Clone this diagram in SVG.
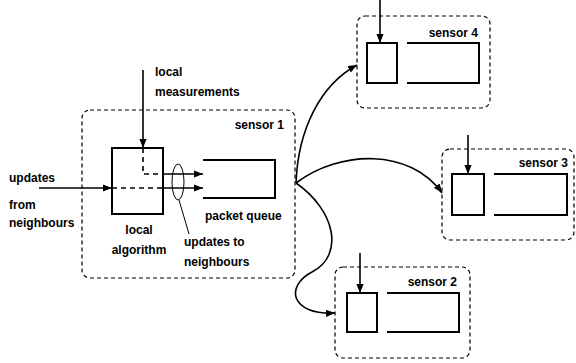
<svg xmlns="http://www.w3.org/2000/svg" width="576" height="363" viewBox="0 0 576 363">
<style>
text{font-family:"Liberation Sans",Arial,sans-serif;font-size:12px;font-weight:bold;fill:#000}
.grp{fill:none;stroke:#000;stroke-width:1.2;stroke-dasharray:4 3}
.box{fill:none;stroke:#000;stroke-width:2}
.q{fill:none;stroke:#000;stroke-width:2}
.ln{fill:none;stroke:#000;stroke-width:1.6}
.dl{fill:none;stroke:#000;stroke-width:1.6;stroke-dasharray:5 4}
.thin{fill:none;stroke:#000;stroke-width:1}
.end{text-anchor:end}
</style>
<defs>
<marker id="ah" viewBox="0 0 10 10" refX="10" refY="5" markerWidth="9" markerHeight="9" markerUnits="userSpaceOnUse" orient="auto"><path d="M0,1 L10,5 L0,9 Z" fill="#000"/></marker>
</defs>
<g id="sensor1">
<rect class="grp" x="82" y="110" width="213" height="168" rx="8"/>
<text class="end" x="284" y="129">sensor 1</text>
<g id="local-algorithm">
<rect class="box" x="112" y="148" width="51" height="66"/>
<text x="139" y="234" text-anchor="middle">local</text>
<text x="139" y="254" text-anchor="middle">algorithm</text>
</g>
<g id="packet-queue">
<path class="q" d="M203,160 H275 V198 H203"/>
<text x="205" y="220">packet queue</text>
</g>
<path class="dl" d="M143,148 V174 H163 M112,188 H163"/>
<ellipse class="thin" cx="178" cy="182" rx="6" ry="18"/>
<path class="thin" d="M179,200 L189,234"/>
<text x="184" y="246">updates to</text>
<text x="184" y="266">neighbours</text>
</g>
<g id="sensor4">
<rect class="grp" x="357" y="16" width="133" height="92" rx="8"/>
<text class="end" x="478" y="37">sensor 4</text>
<rect class="box" x="367" y="43" width="30" height="40"/>
<path class="q" d="M407,43 H479 V83 H407"/>
</g>
<g id="sensor3">
<rect class="grp" x="442" y="149" width="132" height="91" rx="8"/>
<text class="end" x="568" y="167">sensor 3</text>
<rect class="box" x="452" y="174" width="32" height="41"/>
<path class="q" d="M494,174 H567 V215 H494"/>
</g>
<g id="sensor2">
<rect class="grp" x="335" y="267" width="135" height="91" rx="8"/>
<text class="end" x="457" y="286">sensor 2</text>
<rect class="box" x="347" y="293" width="30" height="39"/>
<path class="q" d="M387,293 H459 V332 H387"/>
</g>
<g id="labels">
<text x="155" y="76">local</text>
<text x="155" y="96">measurements</text>
<text x="9" y="182">updates</text>
<text x="9" y="209">from</text>
<text x="9" y="227">neighbours</text>
</g>
<g id="connectors">
<path class="ln" d="M143,70 V148" marker-end="url(#ah)"/>
<path class="ln" d="M39,188 H112" marker-end="url(#ah)"/>
<path class="ln" d="M163,174 H203" marker-end="url(#ah)"/>
<path class="ln" d="M163,188 H203" marker-end="url(#ah)"/>
<path class="ln" d="M380,0 V43" marker-end="url(#ah)"/>
<path class="ln" d="M468,135 V174" marker-end="url(#ah)"/>
<path class="ln" d="M360,253 V293" marker-end="url(#ah)"/>
<path class="ln" d="M296,183 C298,130 320,85 357,65" marker-end="url(#ah)"/>
<path class="ln" d="M296,183 C340,150 410,148 442,193" marker-end="url(#ah)"/>
<path class="ln" d="M296,183 C335,210 345,255 312,272 C285,286 290,315 335,313" marker-end="url(#ah)"/>
</g>
</svg>
